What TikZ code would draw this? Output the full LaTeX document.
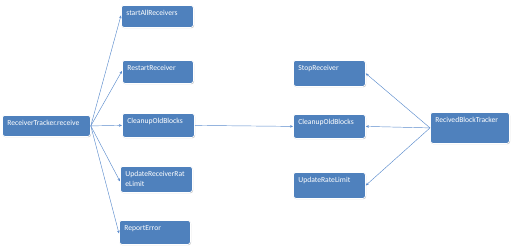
\documentclass[tikz,border=0pt]{standalone}
\usepackage{fontspec}
\setmainfont{Carlito}
\usetikzlibrary{arrows.meta,shadows}
\definecolor{boxblue}{RGB}{79,129,189}
\definecolor{linkblue}{RGB}{92,140,205}
\tikzset{
  box/.style={rectangle, rounded corners=2.5pt, fill=boxblue, draw=white, line width=0.8pt,
    drop shadow={shadow xshift=0.6pt, shadow yshift=-0.8pt, opacity=0.25, fill=black},
    text=white, font=\fontsize{7.6}{9.2}\selectfont, align=left, anchor=north west,
    inner xsep=5pt, inner ysep=4pt, text height=6.5pt},
  link/.style={draw=linkblue, line width=0.45pt, -{Stealth[length=3pt,width=2.6pt]}}
}
\begin{document}
\begin{tikzpicture}[x=1pt,y=-1pt]
\useasboundingbox (0,0) rectangle (515,249);
\node[box, text width=78pt, text depth=6.5pt] (recv) at (2,115) {ReceiverTracker.receive};
\node[box, text width=62pt, text depth=7.5pt] (sar) at (121,5) {startAllReceivers};
\node[box, text width=61pt, text depth=8.5pt] (rr) at (122,60) {RestartReceiver};
\node[box, text width=62pt, text depth=9.5pt] (col) at (122,113) {CleanupOldBlocks};
\node[box, text width=62pt, text depth=11.5pt] (urrl) at (120,166) {UpdateReceiverRat\\eLimit};
\node[box, text width=61pt, text depth=9.5pt] (re) at (119,220) {ReportError};
\node[box, text width=62pt, text depth=11.5pt] (sr) at (293,60) {StopReceiver};
\node[box, text width=62pt, text depth=9.5pt] (cor) at (293,114) {CleanupOldBlocks};
\node[box, text width=62pt, text depth=11.5pt] (url) at (293,172) {UpdateRateLimit};
\node[box, text width=69pt, text depth=16.5pt] (rbt) at (430,112) {RecivedBlockTracker};

\draw[link] (recv.east) -- ([yshift=1pt]sar.west);
\draw[link] (recv.east) -- ([yshift=1pt]rr.west);
\draw[link] (recv.east) -- (col.west);
\draw[link] (recv.east) -- ([yshift=-2pt]urrl.west);
\draw[link] (recv.east) -- ([yshift=-1pt]re.west);
\draw[link] (col.east) -- (cor.west);
\draw[link] (rbt.west) -- (sr.east);
\draw[link] (rbt.west) -- (cor.east);
\draw[link] (rbt.west) -- (url.east);
\end{tikzpicture}
\end{document}
